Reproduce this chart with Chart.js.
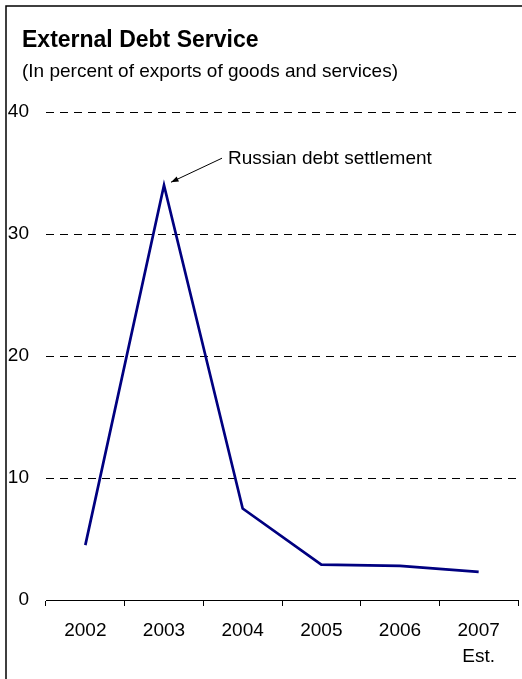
<!DOCTYPE html>
<html>
<head>
<meta charset="utf-8">
<script src="https://cdn.jsdelivr.net/npm/chart.js@4/dist/chart.umd.min.js"></script>
<style>
  html, body { margin: 0; padding: 0; background: #fff; }
  #chart { display: block; }
</style>
</head>
<body>
<canvas id="chart" width="522" height="679"></canvas>
<script>
// debt service as share of exports, 2007 is an estimate
var years = [["2002"], ["2003"], ["2004"], ["2005"], ["2006"], ["2007", "Est."]];
var debtService = [4.5, 34.0, 7.5, 2.9, 2.8, 2.3];
var yTicks = [0, 10, 20, 30, 40];

var titleText = "External Debt Service";
var subtitleText = "(In percent of exports of goods and services)";
var noteText = "Russian debt settlement";
var noteIndex = 1;

var FONT = "'Liberation Sans', Arial, sans-serif";

// frame, heading and the arrow note
var decorations = {
  id: "decorations",
  afterDraw: function(chart) {
    var ctx = chart.ctx;
    ctx.save();

    ctx.strokeStyle = "#000";
    ctx.lineWidth = 1.5;
    ctx.beginPath();
    ctx.moveTo(6, 679);
    ctx.lineTo(6, 6);
    ctx.lineTo(522, 6);
    ctx.stroke();

    ctx.fillStyle = "#000";
    ctx.textAlign = "left";
    ctx.textBaseline = "middle";
    ctx.font = "bold 23px " + FONT;
    ctx.fillText(titleText, 22, 41);
    ctx.font = "19px " + FONT;
    ctx.fillText(subtitleText, 22, 72);

    var pt = chart.getDatasetMeta(0).data[noteIndex];
    var tipX = pt.x + 7, tipY = pt.y - 3;
    var tailX = tipX + 51, tailY = tipY - 24;
    ctx.lineWidth = 1;
    ctx.beginPath();
    ctx.moveTo(tailX, tailY);
    ctx.lineTo(tipX, tipY);
    ctx.stroke();
    var ang = Math.atan2(tipY - tailY, tipX - tailX);
    ctx.beginPath();
    ctx.moveTo(tipX, tipY);
    ctx.lineTo(tipX - 8 * Math.cos(ang - 0.35), tipY - 8 * Math.sin(ang - 0.35));
    ctx.lineTo(tipX - 8 * Math.cos(ang + 0.35), tipY - 8 * Math.sin(ang + 0.35));
    ctx.closePath();
    ctx.fill();

    ctx.font = "19px " + FONT;
    ctx.fillText(noteText, tailX + 6, tailY + 1);
    ctx.restore();
  }
};

new Chart(document.getElementById("chart"), {
  type: "line",
  data: {
    labels: years,
    datasets: [{
      data: debtService,
      borderColor: "#000080",
      borderWidth: 2.7,
      pointRadius: 0,
      tension: 0,
      fill: false
    }]
  },
  options: {
    responsive: false,
    animation: false,
    devicePixelRatio: 1,
    layout: { padding: { top: 112, right: 4, bottom: 0, left: 0 } },
    plugins: {
      legend: { display: false },
      tooltip: { enabled: false }
    },
    scales: {
      x: {
        offset: true,
        grid: {
          offset: true,
          drawOnChartArea: false,
          drawTicks: true,
          tickLength: 6,
          color: "#000"
        },
        border: { display: true, color: "#000", width: 1 },
        ticks: {
          color: "#000",
          padding: 12,
          maxRotation: 0,
          font: { family: FONT, size: 19, lineHeight: 1.35 }
        },
        afterFit: function(scale) { scale.height = 79; }
      },
      y: {
        min: 0,
        max: 40,
        afterBuildTicks: function(scale) {
          scale.ticks = yTicks.map(function(v) { return { value: v }; });
        },
        grid: {
          drawTicks: false,
          color: function(c) { return c.tick && c.tick.value === 0 ? "rgba(0,0,0,0)" : "#000"; },
          lineWidth: 1
        },
        border: { display: false, dash: [8, 6] },
        ticks: {
          color: "#000",
          padding: 17,
          font: { family: FONT, size: 19 }
        },
        afterFit: function(scale) { scale.width = 46; }
      }
    }
  },
  plugins: [decorations]
});
</script>
</body>
</html>
